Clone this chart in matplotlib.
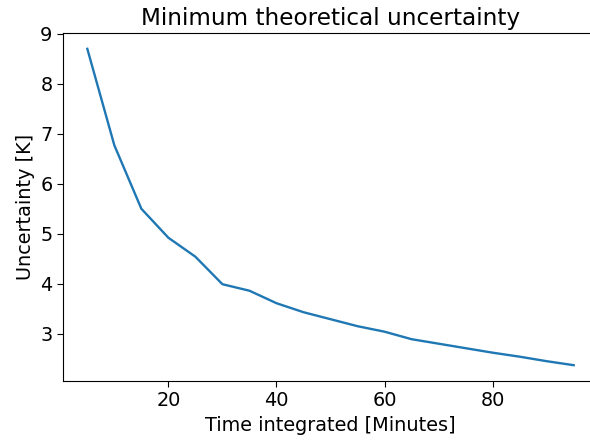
import numpy as np
import matplotlib
matplotlib.use('Agg')
import matplotlib.pyplot as plt

# integration time (minutes) and minimum uncertainty
minutes = [5, 10, 15, 20, 25, 30, 35, 40, 45, 50, 55, 60, 65, 70, 75, 80, 85, 90, 95]
uncertainty = [8.70, 6.77, 5.50, 4.92, 4.54, 3.99, 3.86, 3.61, 3.43, 3.29, 3.15, 3.04,
               2.89, 2.80, 2.71, 2.62, 2.54, 2.45, 2.37]

plt.rcParams['font.size'] = 13.9
plt.rcParams['xtick.major.size'] = 4
plt.rcParams['ytick.major.size'] = 4

fig = plt.figure(figsize=(5.9, 4.45), dpi=100)
# axes run past the right edge, the original screenshot was cut there
ax = fig.add_axes([63 / 590, 64 / 445, 535 / 590, 348 / 445])
ax.plot(minutes, uncertainty, linewidth=1.7, color='#1f77b4')
ax.spines['right'].set_visible(False)
ax.set_title('Minimum theoretical uncertainty', fontsize=16.7)
ax.set_xlabel('Time integrated [Minutes]')
ax.set_ylabel('Uncertainty [K]')

fig.savefig('out.png', dpi=100)
